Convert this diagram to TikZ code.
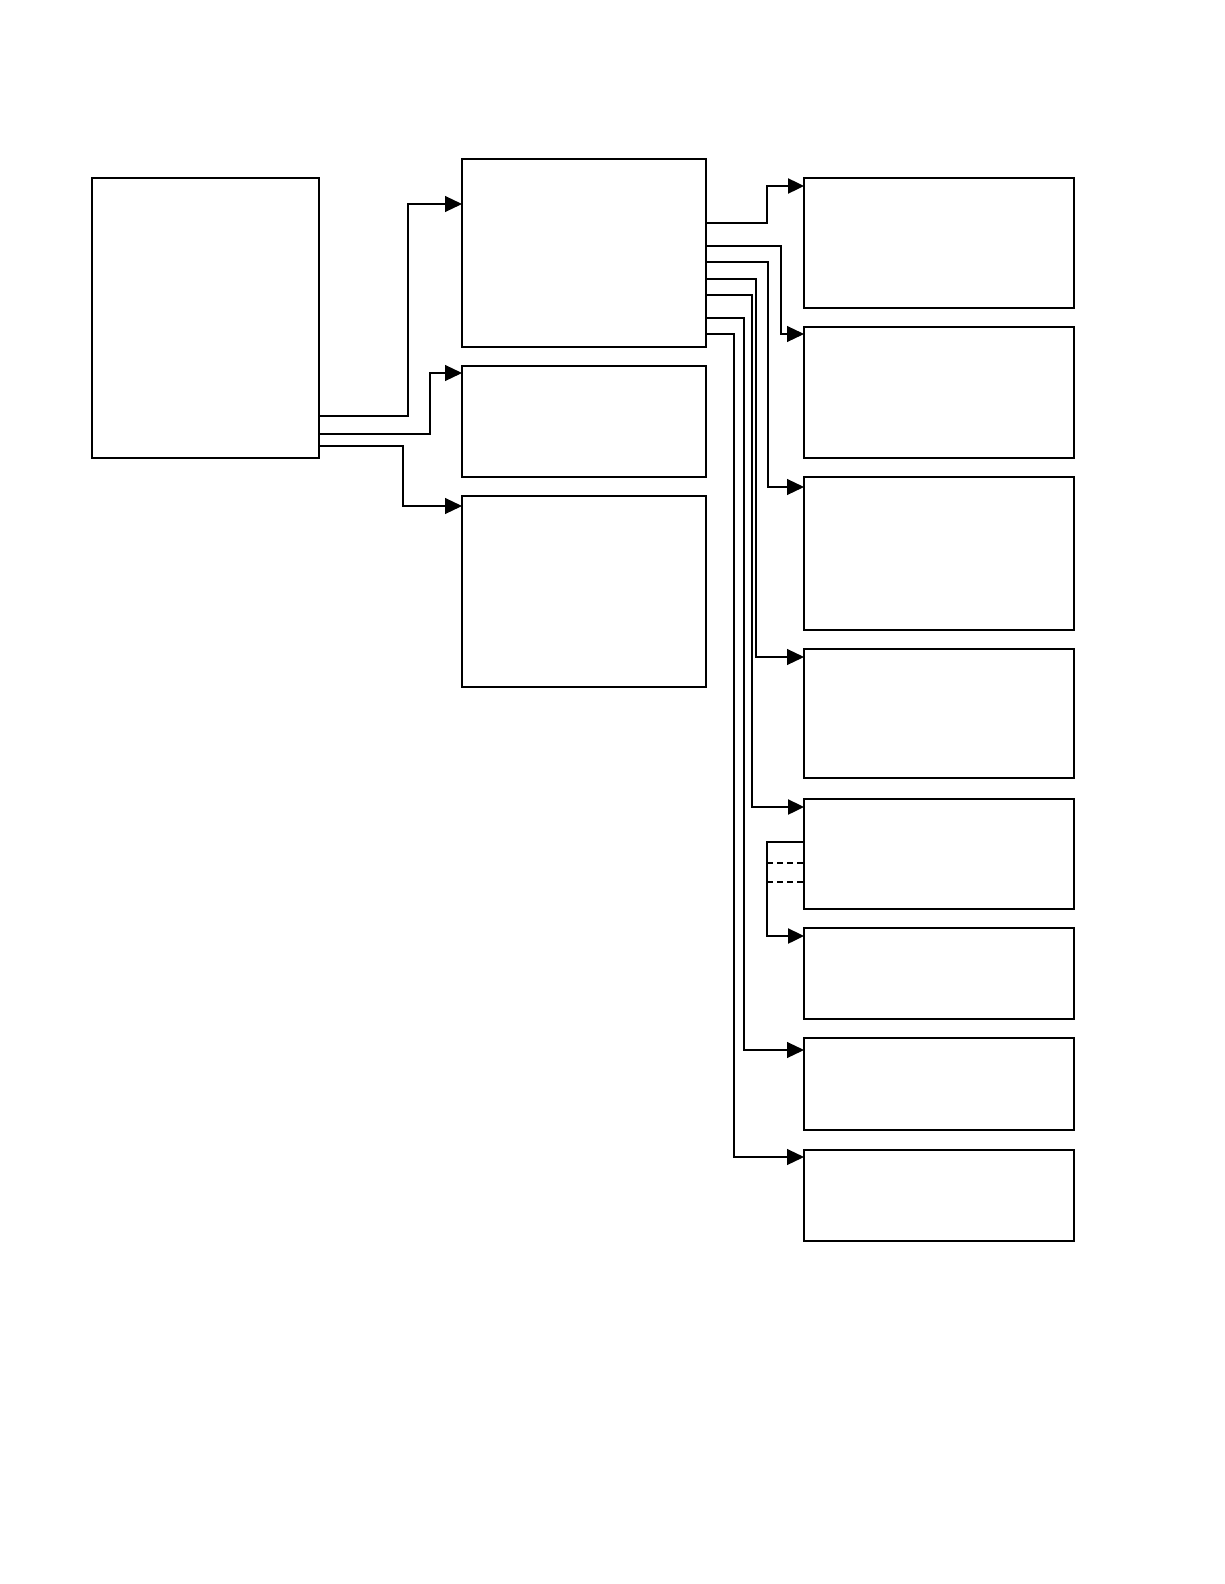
\documentclass[tikz,border=0pt]{standalone}
\usetikzlibrary{arrows.meta}
\begin{document}
\begin{tikzpicture}[x=1pt,y=-1pt,
  box/.style={draw, line width=1.1pt, rectangle, inner sep=0pt, outer sep=0pt},
  conn/.style={line width=1.1pt, -{Triangle[length=17pt,width=16pt]}},
  thickconn/.style={line width=2.4pt, -{Triangle[length=16pt,width=15pt]}},
  dashline/.style={line width=1.1pt, dash pattern=on 6pt off 4pt}]
\useasboundingbox (0,0) rectangle (1224,1584);
% left box
\node[box, minimum width=227pt, minimum height=280pt] (A) at (205.5,318) {};
% middle column
\node[box, minimum width=244pt, minimum height=188pt] (B1) at (584,253) {};
\node[box, minimum width=244pt, minimum height=111pt] (B2) at (584,421.5) {};
\node[box, minimum width=244pt, minimum height=191pt] (B3) at (584,591.5) {};
% right column
\node[box, minimum width=270pt, minimum height=130pt] (R1) at (939,243) {};
\node[box, minimum width=270pt, minimum height=131pt] (R2) at (939,392.5) {};
\node[box, minimum width=270pt, minimum height=153pt] (R3) at (939,553.5) {};
\node[box, minimum width=270pt, minimum height=129pt] (R4) at (939,713.5) {};
\node[box, minimum width=270pt, minimum height=110pt] (R5) at (939,854) {};
\node[box, minimum width=270pt, minimum height=91pt] (R6) at (939,973.5) {};
\node[box, minimum width=270pt, minimum height=92pt] (R7) at (939,1084) {};
\node[box, minimum width=270pt, minimum height=91pt] (R8) at (939,1195.5) {};
% connectors from A
\draw[conn] (A.east |- 0,416) -- (408,416) |- (B1.west |- 0,204);
\draw[conn] (A.east |- 0,434) -- (430,434) |- (B2.west |- 0,373);
\draw[conn] (A.east |- 0,446) -- (403,446) |- (B3.west |- 0,506);
% connectors from B1
\draw[thickconn] (B1.east |- 0,223) -- (767,223) |- (R1.west |- 0,186);
\draw[conn] (B1.east |- 0,246) -- (781,246) |- (R2.west |- 0,334);
\draw[conn] (B1.east |- 0,262) -- (768,262) |- (R3.west |- 0,487);
\draw[conn] (B1.east |- 0,279) -- (756,279) |- (R4.west |- 0,657);
\draw[thickconn] (B1.east |- 0,295) -- (752,295) |- (R5.west |- 0,807);
\draw[conn] (B1.east |- 0,318) -- (744,318) |- (R7.west |- 0,1050);
\draw[conn] (B1.east |- 0,334) -- (734,334) |- (R8.west |- 0,1157);
% bracket from R5 to R6
\draw[thickconn] (R5.west |- 0,842) -- (767,842) |- (R6.west |- 0,936);
\draw[dashline] (767,863) -- (R5.west |- 0,863);
\draw[dashline] (767,882) -- (R5.west |- 0,882);
\end{tikzpicture}
\end{document}
